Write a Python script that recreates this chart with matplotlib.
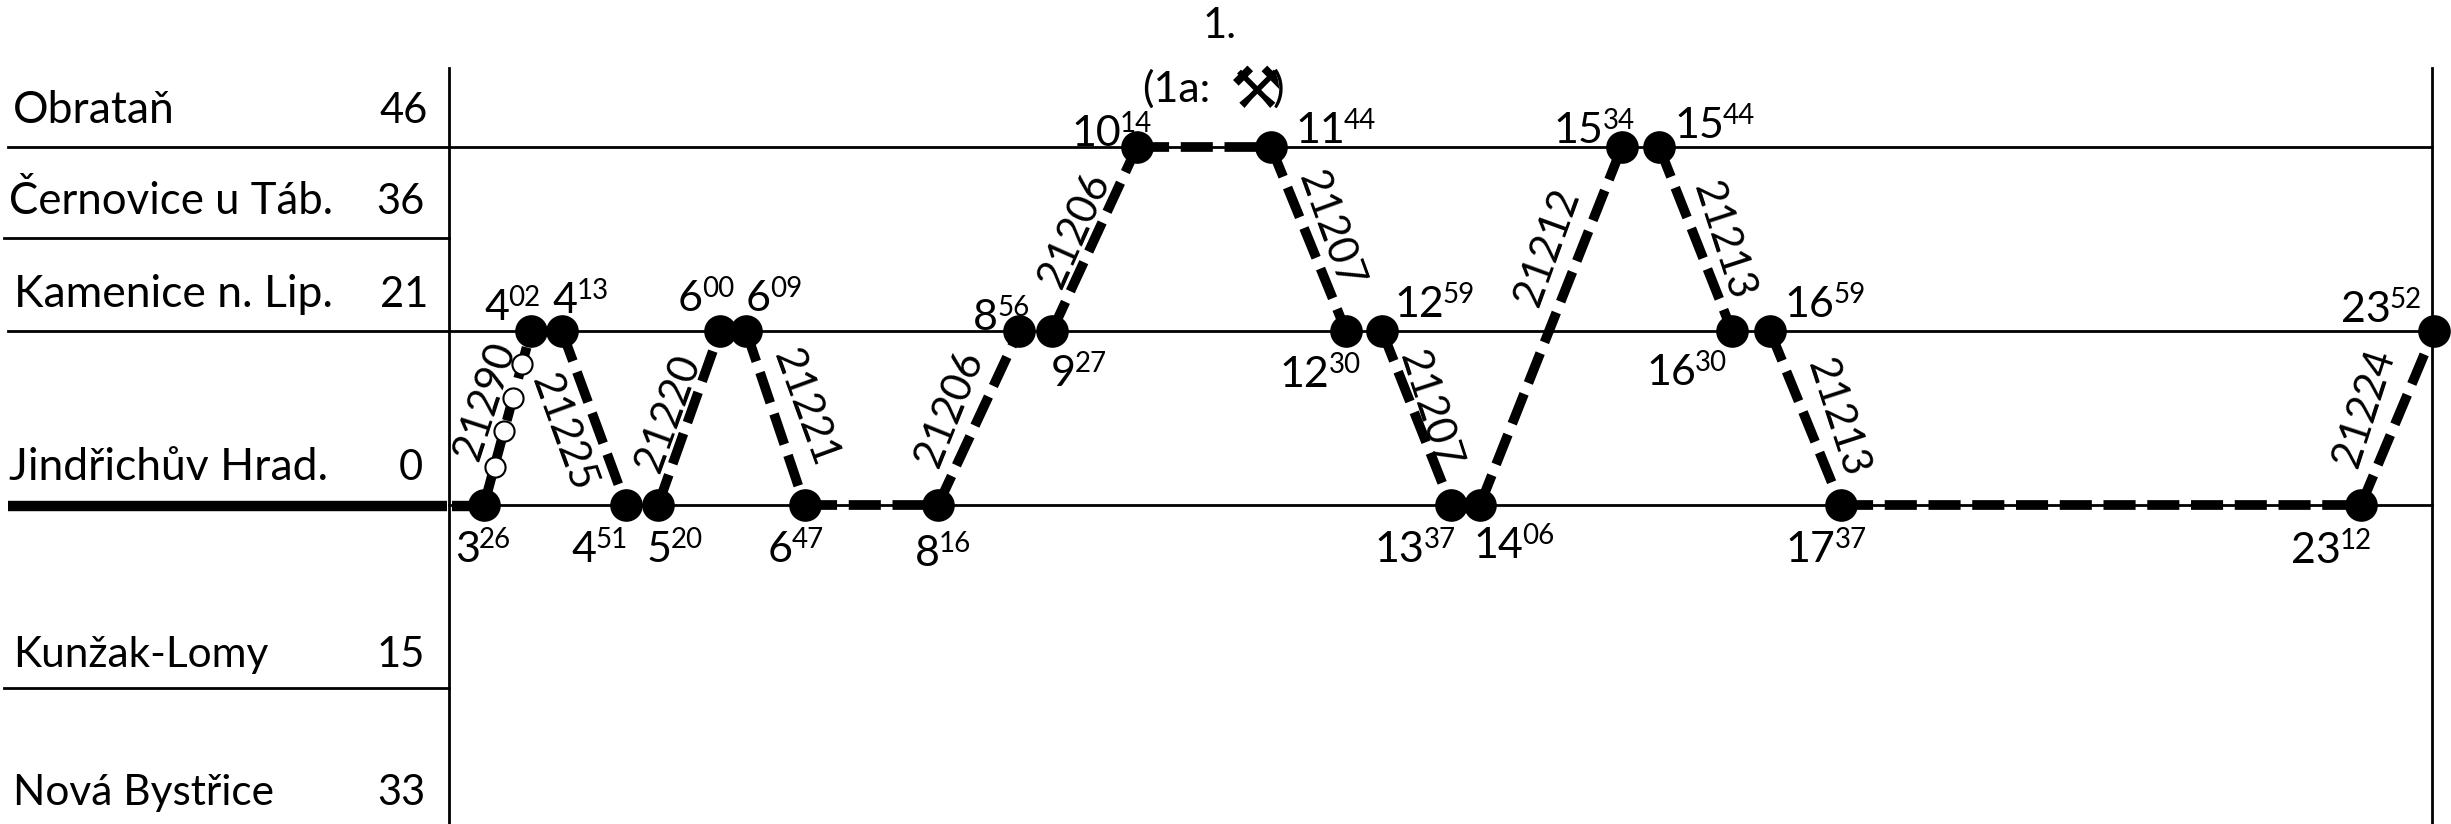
import matplotlib
matplotlib.use('Agg')
import matplotlib.pyplot as plt

plt.rcParams['font.family'] = ['Lato', 'DejaVu Sans']

# Stations of the table on the left
station_names = ['Obrataň', 'Černovice u Táb.', 'Kamenice n. Lip.', 'Jindřichův Hrad.', 'Kunžak-Lomy', 'Nová Bystřice']
station_km = ['46', '36', '21', '0', '15', '33']
station_height = [358, 267, 174, 0, -183, -319]

# Timetable points, in the order of the day. drawn_min is where the point sits on the
# time axis as drawn (minutes after midnight), the sketch is not quite to scale
point_hours = ['3', '4', '4', '4', '5', '6', '6', '6', '8', '8', '9', '10', '11',
               '12', '12', '13', '14', '15', '15', '16', '16', '17', '23', '23']
point_minutes = ['26', '02', '13', '51', '20', '00', '09', '47', '16', '56', '27', '14', '44',
                 '30', '59', '37', '06', '34', '44', '30', '59', '37', '12', '52']
drawn_min = [206, 235.6, 255, 295.4, 315.6, 354.6, 371, 408, 491.9, 542.9, 563.7, 617.2, 701.6,
             748.8, 771.5, 814.9, 833.2, 922.6, 946, 991.9, 1015.8, 1060.5, 1388, 1434]
point_station = [3, 2, 2, 3, 3, 2, 2, 3, 3, 2, 2, 0, 0, 2, 2, 3, 3, 0, 0, 2, 2, 3, 3, 2]

# Train runs between two points
run_start = [0, 2, 4, 6, 7, 8, 10, 11, 12, 14, 16, 18, 20, 21, 22]
run_end = [1, 3, 5, 7, 8, 9, 11, 12, 13, 15, 17, 19, 21, 22, 23]
run_train = ['21290', '21225', '21220', '21221', '', '21206', '21206', '', '21207', '21207',
             '21212', '21213', '21213', '', '21224']

# Small stops of train 21290
stop_min = [213, 218.6, 224.3, 229.9]
stop_height = [38, 74, 107, 141]

# layout of the drawing
TABLE_LEFT = -94
AXIS_LEFT = 184
AXIS_RIGHT = 1433
PX_PER_MIN = 1.588

fig = plt.figure(figsize=(24.51, 8.24), dpi=100)
ax = fig.add_axes([0, 0, 1, 1])
ax.set_xlim(206 - 484 / PX_PER_MIN, 206 + (2451 - 484) / PX_PER_MIN)
ax.set_ylim(-319, 505)
ax.axis('off')
renderer = fig.canvas.get_renderer()

# Frame and station lines
for x in [AXIS_LEFT, AXIS_RIGHT]:
    ax.plot([x, x], [-319, 437], color='black', lw=2, zorder=1)
for i in [0, 2, 3]:
    start = TABLE_LEFT if i != 3 else AXIS_LEFT
    ax.plot([start, AXIS_RIGHT], [station_height[i]] * 2, color='black', lw=2, zorder=1)
for i in [1, 4]:
    ax.plot([TABLE_LEFT - 2, AXIS_LEFT], [station_height[i]] * 2, color='black', lw=2, zorder=1)
ax.plot([TABLE_LEFT, AXIS_LEFT - 1], [-1, -1], color='black', lw=7.5, solid_capstyle='butt', zorder=2)
ax.plot([AXIS_LEFT + 2, drawn_min[0]], [-1, -1], color='black', lw=7.5, solid_capstyle='butt', zorder=2)

# Table text
name_left = [13, 9, 14, 9, 13, 13]
name_size = [32, 31.5, 32, 32, 30.5, 30.5]
km_right = [428, 424, 428, 423, 425, 425]
text_baseline = [382, 291, 198, 25, -162, -300]
for i in range(len(station_names)):
    ax.annotate(station_names[i], xy=(0, text_baseline[i]), xycoords=('axes pixels', 'data'),
                xytext=(name_left[i], 0), textcoords='offset pixels', fontsize=name_size[i], va='baseline', ha='left')
    ax.annotate(station_km[i], xy=(0, text_baseline[i]), xycoords=('axes pixels', 'data'),
                xytext=(km_right[i], 0), textcoords='offset pixels', fontsize=30, va='baseline', ha='right')

# Runs
for i in range(len(run_start)):
    a, b = run_start[i], run_end[i]
    ax.plot([drawn_min[a], drawn_min[b]],
            [station_height[point_station[a]], station_height[point_station[b]]],
            color='black', lw=7, linestyle=(0, (3.3, 1.2)), dash_capstyle='butt', zorder=3)

# Points
ax.plot(drawn_min, [station_height[s] for s in point_station], 'o', color='black', ms=23.5, mew=0, zorder=4)
ax.plot(stop_min, stop_height, 'o', mfc='white', mec='black', ms=14.5, mew=1.5, zorder=5)

# Time labels: offset of the left end of the hour and of its baseline from the point
label_dx = [-29, -47, -9, -55, -11, -42, 0, -37, -23, -46, -1, -66, 24,
            -66, 12, -76, -7, -68, 15, -86, 15, -55, -70, -93]
label_dy = [-57, 11, 18, -57, -57, 20, 20, -57, -61, 1, -55, 1, 4,
            -56, 14, -57, -53, 4, 9, -54, 14, -57, -58, 9]
for i in range(len(drawn_min)):
    y = station_height[point_station[i]]
    hour = ax.annotate(point_hours[i], xy=(drawn_min[i], y), xytext=(label_dx[i], label_dy[i]),
                       textcoords='offset pixels', fontsize=31, va='baseline', ha='left', zorder=6)
    width = hour.get_window_extent(renderer).width
    ax.annotate(point_minutes[i], xy=(drawn_min[i], y), xytext=(label_dx[i] + width - 1, label_dy[i] + 14),
                textcoords='offset pixels', fontsize=20, va='baseline', ha='left', zorder=6)

# Train numbers along the runs, offset from the middle of the run
train_dx = [-22, -31, -21, 30, 0, -29, -20, 0, 21, 13, -4, 28, 32, 0, -33]
train_dy = [17, -15, 5, 10, 0, 9, 9, 0, 9, 8, 79, -2, 0, 0, 10]
train_rot = [72, -70, 70, -70, 0, 68, 66, 0, -70, -72, 70, -72, -72, 0, 72]
for i in range(len(run_start)):
    if run_train[i] == '':
        continue
    a, b = run_start[i], run_end[i]
    xm = (drawn_min[a] + drawn_min[b]) / 2
    ym = (station_height[point_station[a]] + station_height[point_station[b]]) / 2
    ax.annotate(run_train[i], xy=(xm, ym), xytext=(train_dx[i], train_dy[i]), textcoords='offset pixels',
                fontsize=30, rotation=train_rot[i], rotation_mode='anchor', ha='center', va='center', zorder=6)

# Train group label above the mine
ax.annotate('1.', xy=(drawn_min[11], station_height[0]), xytext=(83, 109), textcoords='offset pixels',
            fontsize=30, ha='center', va='baseline')
ax.annotate('(1a:', xy=(drawn_min[11], station_height[0]), xytext=(5, 45), textcoords='offset pixels',
            fontsize=31, ha='left', va='baseline')
ax.annotate('⚒', xy=(drawn_min[11], station_height[0]), xytext=(119, 55), textcoords='offset pixels',
            fontsize=42, ha='center', va='center')
ax.annotate(')', xy=(drawn_min[11], station_height[0]), xytext=(136, 45), textcoords='offset pixels',
            fontsize=31, ha='left', va='baseline')

fig.savefig('out.png', dpi=100)
